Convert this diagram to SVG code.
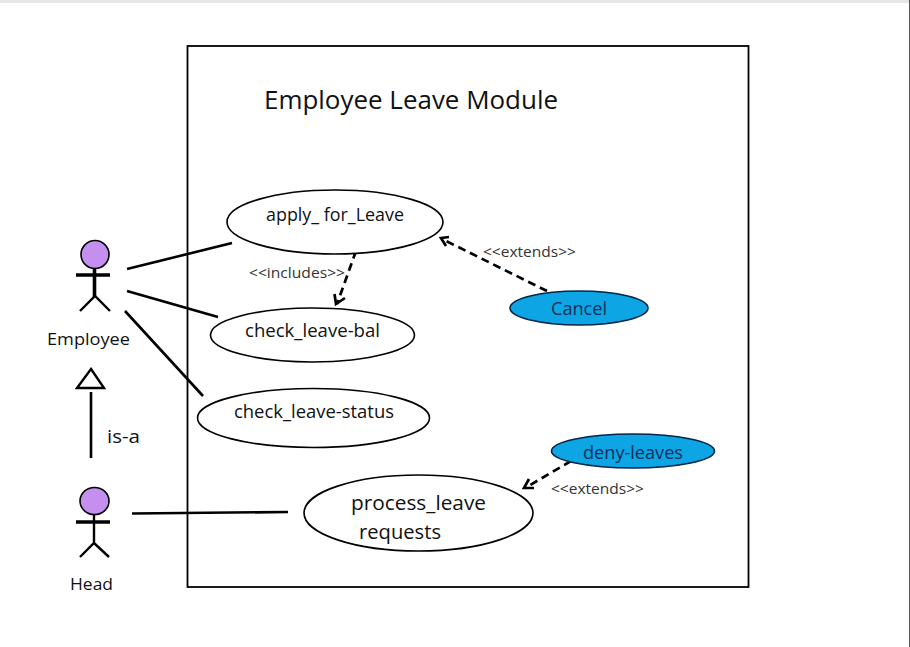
<svg xmlns="http://www.w3.org/2000/svg" width="910" height="647" viewBox="0 0 910 647">
<style>
text{font-family:"Open Sans","Liberation Sans",sans-serif;fill:#111}
.uc{fill:#fff;stroke:#000;stroke-width:1.6}
.ext{fill:#0ea5e4;stroke:#04264a;stroke-width:1.6}
.blue{fill:#05305c}
.head{fill:#c58ff0;stroke:#000;stroke-width:1.6}
.ln{fill:none;stroke:#000;stroke-width:2.6}
.dash{fill:none;stroke:#000;stroke-width:2.7;stroke-dasharray:8 5}
.tip{fill:none;stroke:#000;stroke-width:2.7}
.st{fill:none;stroke:#000;stroke-width:2.4}
.bar{fill:none;stroke:#000;stroke-width:3.6}
.lab{font-size:14px;fill:#333}
.uct{font-size:18px}
</style>
<rect width="910" height="647" fill="#fff"/>
<rect x="0" y="0" width="910" height="3" fill="#e6e6e6"/>
<rect x="909" y="0" width="1" height="647" fill="#555"/>
<g id="boundary">
<rect x="187.500" y="46" width="561" height="541" fill="none" stroke="#000" stroke-width="1.800"/>
<text x="264" y="109" font-size="25" textLength="294" lengthAdjust="spacingAndGlyphs">Employee Leave Module</text>
</g>
<g id="connectors">
<path class="ln" d="M127 269L232 243"/>
<path class="ln" d="M127 291L218 317"/>
<path class="ln" d="M125 311L203 396"/>
<path class="ln" d="M132 513.500L288 512"/>
<path class="ln" d="M91 392V458"/>
<path class="dash" d="M356 251L337 304"/>
<path class="tip" d="M334.500 294L336 304L345 298"/>
<path class="dash" d="M547 291L442 239"/>
<path class="tip" d="M449 237L441 238L446 246"/>
<path class="dash" d="M571 461L525 488"/>
<path class="tip" d="M529 479L524 488L534 488"/>
<text class="lab" x="249" y="278" textLength="96" lengthAdjust="spacingAndGlyphs">&lt;&lt;includes&gt;&gt;</text>
<text class="lab" x="483" y="257" textLength="93" lengthAdjust="spacingAndGlyphs">&lt;&lt;extends&gt;&gt;</text>
<text class="lab" x="551" y="494" textLength="93" lengthAdjust="spacingAndGlyphs">&lt;&lt;extends&gt;&gt;</text>
<text x="107" y="443" font-size="19" textLength="33" lengthAdjust="spacingAndGlyphs">is-a</text>
</g>
<g id="generalization-arrow"><path d="M91 369L104 388H77Z" fill="#fff" stroke="#000" stroke-width="2.400"/></g>
<g id="employee">
<circle class="head" cx="95" cy="254.500" r="14"/>
<path class="bar" d="M94.500 268V297M76 275H110"/>
<path class="st" d="M80 311L95 296L110 311"/>
<text x="47" y="345" font-size="17" textLength="83" lengthAdjust="spacingAndGlyphs">Employee</text>
</g>
<g id="head">
<ellipse class="head" cx="94.500" cy="501" rx="14.500" ry="13.500"/>
<path class="st" d="M94 514V543M80 557L94 543L109 557"/>
<path class="bar" d="M76 522H110"/>
<text x="70" y="590" font-size="17" textLength="43" lengthAdjust="spacingAndGlyphs">Head</text>
</g>
<g id="apply-for-leave">
<ellipse class="uc" cx="335" cy="222" rx="108" ry="32"/>
<text class="uct" x="266" y="221" textLength="138" lengthAdjust="spacingAndGlyphs">apply_ for_Leave</text>
</g>
<g id="check-leave-bal">
<ellipse class="uc" cx="312.500" cy="335" rx="102" ry="27"/>
<text class="uct" x="245" y="337" textLength="135" lengthAdjust="spacingAndGlyphs">check_leave-bal</text>
</g>
<g id="check-leave-status">
<ellipse class="uc" cx="313.500" cy="418" rx="116" ry="29.500"/>
<text class="uct" x="234" y="418" textLength="160" lengthAdjust="spacingAndGlyphs">check_leave-status</text>
</g>
<g id="process-leave-requests">
<ellipse class="uc" cx="418.500" cy="513" rx="114.500" ry="38"/>
<text x="351" y="510" font-size="20" textLength="135" lengthAdjust="spacingAndGlyphs">process_leave</text>
<text x="359" y="539" font-size="20" textLength="82" lengthAdjust="spacingAndGlyphs">requests</text>
</g>
<g id="cancel">
<ellipse class="ext" cx="579" cy="308" rx="69" ry="17"/>
<text class="uct blue" x="551" y="315" textLength="56" lengthAdjust="spacingAndGlyphs">Cancel</text>
</g>
<g id="deny-leaves">
<ellipse class="ext" cx="633" cy="451" rx="81.500" ry="17"/>
<text class="uct blue" x="583" y="459" textLength="100" lengthAdjust="spacingAndGlyphs">deny-leaves</text>
</g>
</svg>
